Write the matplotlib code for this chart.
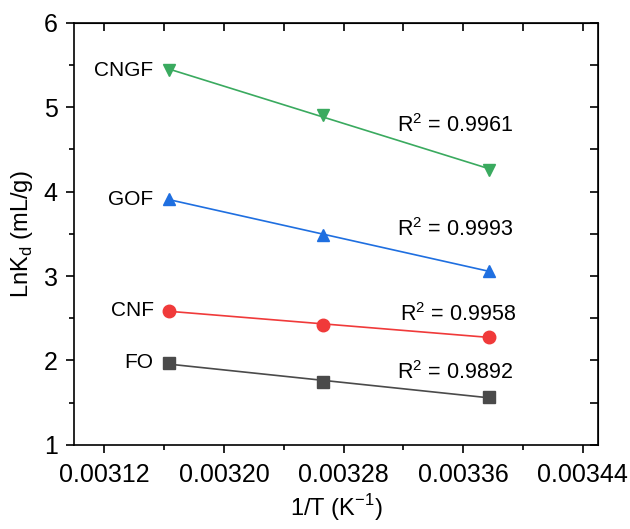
import numpy as np
import matplotlib
matplotlib.use("Agg")
import matplotlib.pyplot as plt
from matplotlib.ticker import MultipleLocator

plt.rcParams['font.family'] = ['Liberation Sans', 'DejaVu Sans']

# 1/T values (K^-1) for 43, 33, 23 degC
inv_t = [0.003163, 0.003266, 0.003377]

names = ['FO', 'CNF', 'GOF', 'CNGF']
ln_kd_fo = [1.97, 1.74, 1.57]
ln_kd_cnf = [2.59, 2.42, 2.28]
ln_kd_gof = [3.91, 3.49, 3.06]
ln_kd_cngf = [5.44, 4.91, 4.26]
r2_labels = ['0.9892', '0.9958', '0.9993', '0.9961']

series = [ln_kd_fo, ln_kd_cnf, ln_kd_gof, ln_kd_cngf]
colors = ['#4a4a4a', '#f03a3a', '#1f6fe0', '#3aaa5f']
markers = ['s', 'o', '^', 'v']
# left edge / centre of the R^2 texts, data coords
r2_pos = [(0.003316, 1.86), (0.003318, 2.54), (0.003316, 3.55), (0.003316, 4.78)]

fig = plt.figure(figsize=(6.3, 5.29), dpi=100)
ax = fig.add_axes([0.118, 0.159, 0.831, 0.798])

for name, y, c, m, r2, pos in zip(names, series, colors, markers, r2_labels, r2_pos):
    slope, icpt = np.polyfit(inv_t, y, 1)
    xf = np.array([inv_t[0], inv_t[-1]])
    ax.plot(xf, slope * xf + icpt, color=c, lw=1.2, zorder=2)
    ax.plot(inv_t, y, ls='none', marker=m, color=c, ms=9, zorder=3)
    ax.text(inv_t[0] - 0.000010, y[0], name, ha='right', va='center', fontsize=15)
    ax.text(pos[0], pos[1], 'R$^{\\mathregular{2}}$ = ' + r2, ha='left', va='center',
            fontsize=15.5)

ax.set_xlim(0.0031, 0.00345)
ax.set_ylim(1, 6)
ax.xaxis.set_minor_locator(MultipleLocator(0.00004))
ax.yaxis.set_major_locator(MultipleLocator(1))
ax.yaxis.set_minor_locator(MultipleLocator(0.5))
ax.set_xticks([0.00312, 0.00320, 0.00328, 0.00336, 0.00344])
ax.set_xticklabels(['0.00312', '0.00320', '0.00328', '0.00336', '0.00344'])

for s in ax.spines.values():
    s.set_linewidth(1.2)
ax.tick_params(which='major', direction='out', length=6, width=1.2, labelsize=18,
               top=False, right=False)
ax.tick_params(which='minor', direction='out', length=3.5, width=1.2)
ax.tick_params(axis='x', pad=7)
ax.tick_params(axis='y', pad=6)

# inward ticks on top and right
ax2 = ax.secondary_xaxis('top')
ax2.set_xticks([0.00312, 0.00320, 0.00328, 0.00336, 0.00344])
ax2.xaxis.set_minor_locator(MultipleLocator(0.00004))
ax2.tick_params(which='both', direction='in', length=5.5, width=1.2, labeltop=False)
ax3 = ax.secondary_yaxis('right')
ax3.yaxis.set_major_locator(MultipleLocator(1))
ax3.yaxis.set_minor_locator(MultipleLocator(0.5))
ax3.tick_params(which='both', direction='in', length=5.5, width=1.2, labelright=False)

ax.set_xlabel('1/T (K$^{\\mathregular{-1}}$)', fontsize=17, labelpad=4)
ax.set_ylabel('LnK$_{\\mathregular{d}}$ (mL/g)', fontsize=17, labelpad=6)

fig.savefig('out.png', dpi=100)
